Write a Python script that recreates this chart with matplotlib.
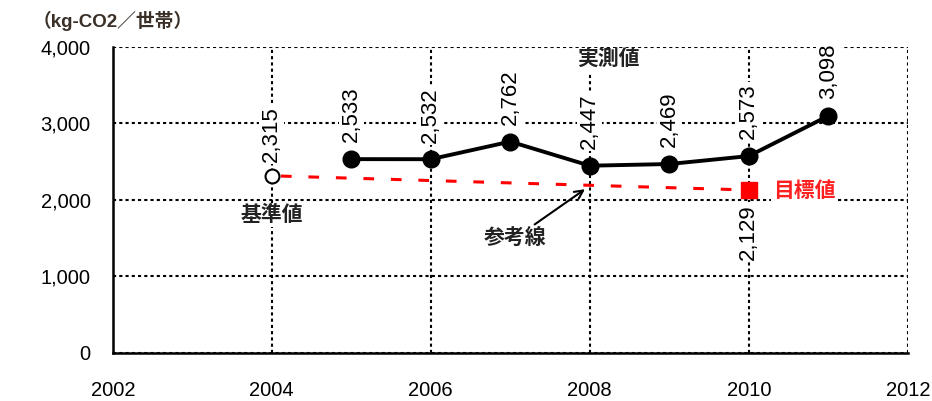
import numpy as np
import matplotlib
matplotlib.use("Agg")
from matplotlib import pyplot as plt

plt.rcParams['font.family'] = ['Liberation Sans', 'Noto Sans CJK JP']

# Dati
years = np.array([2005, 2006, 2007, 2008, 2009, 2010, 2011])
actual = np.array([2533, 2532, 2762, 2447, 2469, 2573, 3098])
base_year = 2004
base_value = 2315
target_year = 2010
target_value = 2129

fig = plt.figure(figsize=(9.32, 4.01), dpi=100)
ax = fig.add_axes([0.121, 0.120, 0.853, 0.763])

ax.set_xlim(2002, 2012)
ax.set_ylim(0, 4000)
ax.set_xticks([2002, 2004, 2006, 2008, 2010, 2012])
ax.set_yticks([0, 1000, 2000, 3000, 4000])
ax.set_yticklabels([f"{v:,}" for v in [0, 1000, 2000, 3000, 4000]])
ax.tick_params(length=0, labelsize=14.5, pad=16)
ax.tick_params(axis='x', pad=20)

for s in ['top', 'right']:
    ax.spines[s].set_visible(False)
ax.spines['left'].set_linewidth(1.8)
ax.spines['bottom'].set_linewidth(1.8)
ax.grid(True, color='black', linestyle=(0, (1.5, 1.5)), linewidth=1.5)
ax.set_axisbelow(True)

# linea di riferimento
ax.plot([base_year, target_year], [base_value, target_value], color='#ff0000',
        linestyle=(6, (3.5, 5.5)), linewidth=2.2, zorder=3)
# valore di base
ax.plot(base_year, base_value, 'o', markersize=10, markerfacecolor='white',
        markeredgecolor='black', markeredgewidth=1.5, zorder=5)
# target
ax.plot(target_year, target_value, 's', markersize=11, color='#ff0000', zorder=5)
# valori misurati
ax.plot(years, actual, '-o', color='black', linewidth=2.8, markersize=12, zorder=6)

bb = dict(boxstyle='square,pad=0.1', facecolor='white', edgecolor='none')
numfont = dict(fontsize=16)
for x, y in zip(years, actual):
    ax.annotate(f"{y:,}", (x, y), xytext=(0, 12), textcoords='offset points',
                rotation=90, ha='center', va='bottom', bbox=bb, zorder=7, **numfont)
ax.annotate(f"{base_value:,}", (base_year, base_value), xytext=(0, 10),
            textcoords='offset points', rotation=90, ha='center', va='bottom',
            bbox=bb, zorder=7, **numfont)
ax.annotate(f"{target_value:,}", (target_year, target_value), xytext=(0, -10),
            textcoords='offset points', rotation=90, ha='center', va='top',
            bbox=bb, zorder=7, **numfont)

jp = dict(fontsize=15, fontweight='bold')
ax.text(2008.23, 3830, "実測値", ha='center', va='center', bbox=bb, zorder=7,
        color='#222222', **jp)
ax.text(2010.3, 2110, "目標値", ha='left', va='center',
        color='#ff2020', bbox=bb, zorder=7, **jp)
ax.text(2004, 1800, "基準値", ha='center', va='center', bbox=bb, zorder=7,
        color='#222222', **jp)
ax.annotate("参考線", xy=(2007.94, 2140), xytext=(2007.06, 1500),
            ha='center', va='center', bbox=bb, zorder=7, color='#222222',
            arrowprops=dict(arrowstyle='->', color='black', lw=1.5,
                            shrinkA=2, shrinkB=0), **jp)

ax.text(0.0, 1.085, "（kg-CO2／世帯）", transform=ax.transAxes,
        ha='center', va='center', fontsize=13.5, fontweight='bold', color='#3a3028')

fig.savefig("out.png", dpi=100)
